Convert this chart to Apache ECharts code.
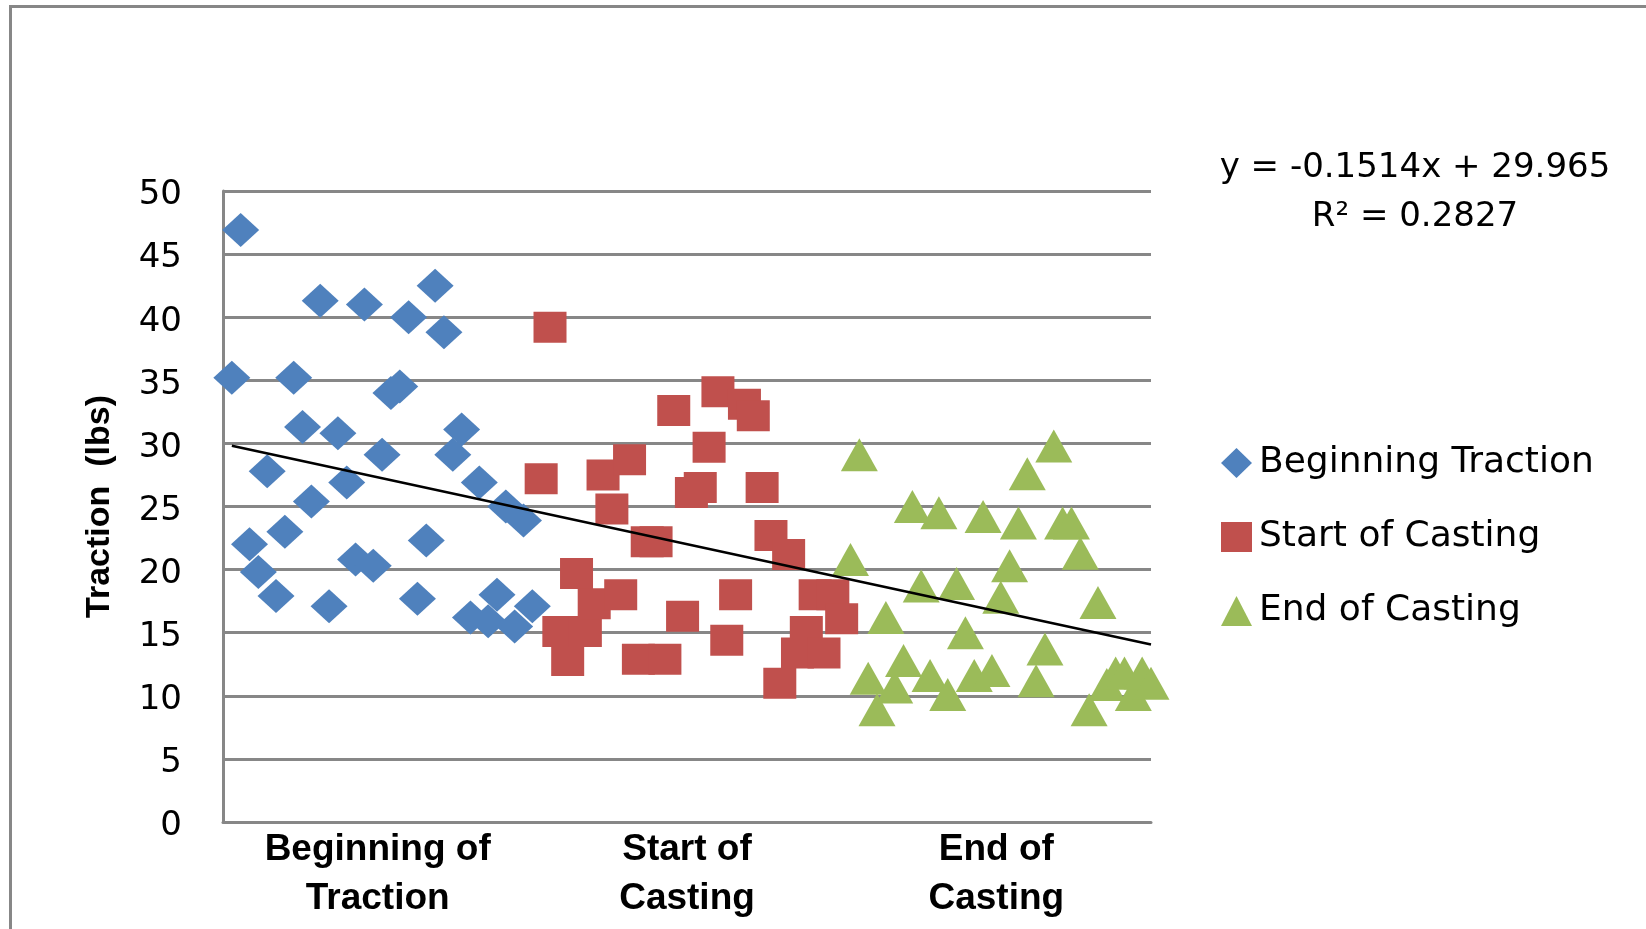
<!DOCTYPE html>
<html>
<head>
<meta charset="utf-8">
<script src="https://cdn.jsdelivr.net/npm/echarts@6/dist/echarts.min.js"></script>
<style>
  html, body { margin: 0; padding: 0; background: #ffffff; }
  #chart { width: 1646px; height: 929px; }
</style>
</head>
<body>
<div id="chart"></div>
<script>
// Phase labels shown under the horizontal axis
const phaseLabels = ['Beginning of Traction', 'Start of Casting', 'End of Casting'];

// Series names (legend)
const seriesNames = ['Beginning Traction', 'Start of Casting', 'End of Casting'];

// Traction readings (lbs), in measurement order
const beginningTraction = [
  35.2, 46.9, 22.0, 19.8, 27.8, 17.9, 23.0, 35.2, 31.3, 25.4,
  41.3, 17.1, 30.8, 26.9, 20.8, 41.0, 20.3, 29.1, 34.0, 34.5,
  40.0, 17.7, 22.3, 42.5, 38.8, 29.1, 31.1, 16.2, 26.9, 15.9,
  18.0, 25.0, 15.5, 23.9, 17.1
];
const startOfCasting = [
  27.2, 39.2, 15.1, 12.8, 19.7, 15.1, 17.3, 27.5, 24.8, 18.0,
  28.7, 12.9, 22.2, 22.2, 12.9, 32.6, 16.3, 26.1, 26.5, 29.7,
  34.1, 14.4, 18.0, 33.1, 32.2, 26.5, 22.7, 11.0, 21.2, 13.4,
  15.1, 18.0, 13.4, 18.0, 16.1
];
const endOfCasting = [
  20.8, 29.1, 11.4, 8.9, 16.2, 10.7, 12.8, 25.0, 18.7, 11.6,
  24.5, 10.1, 18.9, 15.0, 11.6, 24.2, 12.0, 17.8, 20.3, 23.7,
  27.6, 11.2, 13.7, 29.8, 23.7, 23.7, 21.3, 8.9, 17.4, 10.9,
  11.8, 11.8, 10.1, 11.8, 11.0
];

// Vertical axis ticks
const yMin = 0, yMax = 50, yStep = 5;

// Linear trendline over all readings
const trendSlope = -0.1514;
const trendIntercept = 29.965;
const trendR2 = '0.2827';

const colors = ['#4F81BD', '#C0504D', '#9BBB59'];
const symbols = ['diamond', 'rect', 'triangle'];
const symbolSizes = [[37, 34], [33, 31], [37, 33]];
const gridColor = '#878787';

// Readings are plotted against their running sample number
const groups = [beginningTraction, startOfCasting, endOfCasting];
let counter = 0;
const pointSets = groups.map(vals => vals.map(v => { counter += 1; return [counter, v]; }));
const totalSamples = counter;

const trendStart = 1, trendEnd = totalSamples;
const trendData = [
  [trendStart, trendIntercept + trendSlope * trendStart],
  [trendEnd, trendIntercept + trendSlope * trendEnd]
];

const chart = echarts.init(document.getElementById('chart'), null, { renderer: 'canvas' });

const scatterSeries = pointSets.map((pts, i) => ({
  name: seriesNames[i],
  type: 'scatter',
  xAxisIndex: 0,
  yAxisIndex: 0,
  data: pts,
  symbol: symbols[i],
  symbolSize: symbolSizes[i],
  itemStyle: { color: colors[i], opacity: 1 },
  emphasis: { disabled: true },
  z: 3 + i
}));

const eqFont = '34px "DejaVu Sans"';

const option = {
  backgroundColor: '#ffffff',
  animation: false,
  grid: { left: 223, right: 495, top: 191, bottom: 107, containLabel: false },
  xAxis: [
    {
      type: 'value',
      min: 0,
      max: totalSamples,
      axisLine: { show: true, lineStyle: { color: gridColor, width: 3 } },
      axisTick: { show: false },
      axisLabel: { show: false },
      splitLine: { show: false }
    },
    {
      type: 'category',
      position: 'bottom',
      data: phaseLabels,
      axisLine: { show: false },
      axisTick: { show: false },
      splitLine: { show: false },
      axisLabel: {
        interval: 0,
        margin: 3,
        color: '#000000',
        fontFamily: 'Liberation Sans',
        fontWeight: 'bold',
        fontSize: 37,
        lineHeight: 49,
        formatter: v => v.replace('of ', 'of\n')
      }
    }
  ],
  yAxis: {
    type: 'value',
    min: yMin,
    max: yMax,
    interval: yStep,
    name: 'Traction  (lbs)',
    nameLocation: 'middle',
    nameRotate: 90,
    nameGap: 106,
    nameTextStyle: {
      color: '#000000',
      fontFamily: 'Liberation Sans',
      fontWeight: 'bold',
      fontSize: 34
    },
    axisLine: { show: true, lineStyle: { color: gridColor, width: 3 } },
    axisTick: { show: false },
    axisLabel: {
      margin: 41,
      formatter: v => '{t|' + v + '}',
      rich: {
        t: {
          color: '#000000',
          fontFamily: 'DejaVu Sans',
          fontSize: 34,
          padding: [9, 0, 0, 0]
        }
      }
    },
    splitLine: { show: true, lineStyle: { color: gridColor, width: 3 } }
  },
  legend: {
    data: seriesNames,
    orient: 'vertical',
    left: 1216,
    top: 440,
    itemWidth: 31,
    itemHeight: 30,
    itemGap: 38,
    selectedMode: false,
    textStyle: {
      color: '#000000',
      fontFamily: 'DejaVu Sans',
      fontSize: 36,
      lineHeight: 30,
      padding: [0, 0, 0, 2]
    }
  },
  graphic: [
    {
      type: 'rect',
      silent: true,
      shape: { x: 10.5, y: 6.5, width: 3000, height: 3000 },
      style: { fill: 'none', stroke: '#878787', lineWidth: 3 }
    },
    {
      type: 'text',
      silent: true,
      x: 1415,
      y: 168,
      style: {
        text: 'y = -0.1514x + 29.965',
        fill: '#000000',
        font: eqFont,
        align: 'center',
        verticalAlign: 'middle'
      }
    },
    {
      type: 'text',
      silent: true,
      x: 1415,
      y: 217,
      style: {
        text: 'R² = ' + trendR2,
        fill: '#000000',
        font: eqFont,
        align: 'center',
        verticalAlign: 'middle'
      }
    }
  ],
  series: scatterSeries.concat([{
    name: 'Linear trend',
    type: 'line',
    xAxisIndex: 0,
    yAxisIndex: 0,
    data: trendData,
    symbol: 'none',
    silent: true,
    lineStyle: { color: '#000000', width: 2.5 },
    z: 10
  }])
};

chart.setOption(option);
</script>
</body>
</html>
